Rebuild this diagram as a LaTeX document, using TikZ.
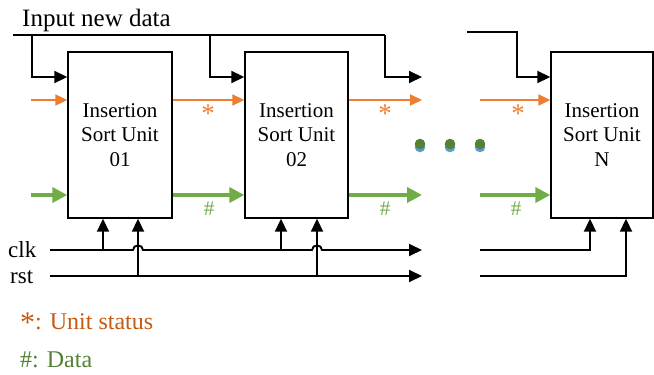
\documentclass[tikz,border=0pt]{standalone}
\usepackage{fontspec}
\setmainfont{Liberation Serif}
\usetikzlibrary{arrows.meta}
\definecolor{orgA}{HTML}{ED7D31}
\definecolor{orgT}{HTML}{C55A11}
\definecolor{grnA}{HTML}{70AD47}
\definecolor{grnT}{HTML}{548235}
\definecolor{bluS}{HTML}{5B9BD5}
\tikzset{
  unit/.style={draw, line width=1.4pt, minimum height=166pt, inner sep=0pt, align=center,
    font=\fontsize{21}{24.5}\selectfont},
  blkline/.style={line width=1.9pt},
  blk/.style={line width=1.9pt, -{Triangle[length=13pt,width=12pt]}},
  org/.style={draw=orgA, line width=2pt, -{Triangle[length=12pt,width=11pt]}},
  grn/.style={draw=grnA, line width=3.8pt, -{Triangle[length=15pt,width=15pt]}},
  star/.style={text=orgA, font=\fontsize{27}{27}\selectfont, anchor=base},
  hash/.style={text=grnA, font=\fontsize{21}{21}\selectfont, anchor=base},
  sig/.style={font=\fontsize{23}{23}\selectfont, anchor=base west},
  dotg/.style={fill=grnT},
  dots/.style={fill=bluS}
}
\begin{document}
\begin{tikzpicture}[x=1pt,y=-1pt]
\useasboundingbox (0,0) rectangle (654,375);
% units
\node[unit, minimum width=104pt] (u1) at (120,135) {Insertion\\Sort Unit\\01};
\node[unit, minimum width=103pt] (u2) at (296.5,135) {Insertion\\Sort Unit\\02};
\node[unit, minimum width=102pt] (uN) at (602,135) {Insertion\\Sort Unit\\N};
% levels
\coordinate (yi) at (0,77);
\coordinate (yo) at (0,100);
\coordinate (yg) at (0,195);
% input data bus
\node[font=\fontsize{25}{25}\selectfont, anchor=base west, inner sep=0pt] (title) at (22,26) {Input new data};
\coordinate (in0) at (13,35);
\coordinate (b1) at (32,35);
\coordinate (b2) at (210,35);
\coordinate (b3) at (385,35);
\coordinate (o3) at (422,77);
\coordinate (inN) at (467,32);
\coordinate (bN) at (517,32);
\draw[blkline] (in0) -- (b3);
\draw[blk] (b3) |- (o3);
\draw[blk] (b1) |- (u1.west |- yi);
\draw[blk] (b2) |- (u2.west |- yi);
\draw[blk] (inN) -- (bN) |- (uN.west |- yi);
% unit status (orange)
\coordinate (os) at (31,100);
\coordinate (oe) at (422,100);
\coordinate (osN) at (480,100);
\draw[org] (os) -- (u1.west |- yo);
\draw[org] (u1.east |- yo) -- (u2.west |- yo);
\draw[org] (u2.east |- yo) -- (oe);
\draw[org] (osN) -- (uN.west |- yo);
\node[star] (s1) at (208,122) {*};
\node[star] (s2) at (385,122) {*};
\node[star] (s3) at (518,122) {*};
% data (green)
\coordinate (gs) at (31,195);
\coordinate (ge) at (422,195);
\coordinate (gsN) at (480,195);
\draw[grn] (gs) -- (u1.west |- yg);
\draw[grn] (u1.east |- yg) -- (u2.west |- yg);
\draw[grn] (u2.east |- yg) -- (ge);
\draw[grn] (gsN) -- (uN.west |- yg);
\node[hash] (h1) at (209,215) {\#};
\node[hash] (h2) at (385,215) {\#};
\node[hash] (h3) at (516,215) {\#};
% dots
\foreach \x/\n in {420/d1,450/d2,480/d3}{
  \fill[dots] (\x,147) circle (5.3pt);
  \fill[dotg] (\x,144) circle (5.3pt);
}
% clk and rst
\node[sig, inner sep=0pt] (clk) at (8,257) {clk};
\node[sig, inner sep=0pt] (rst) at (10,283) {rst};
\coordinate (cs) at (50,250);
\coordinate (ce) at (422,250);
\coordinate (rs) at (50,276);
\coordinate (re) at (422,276);
\coordinate (c1) at (103,250);
\coordinate (r1) at (138,276);
\coordinate (c2) at (281,250);
\coordinate (r2) at (317,276);
\draw[blk] (cs) -- (133,250) .. controls (133,244) and (143,244) .. (143,250)
  -- (312,250) .. controls (312,244) and (322,244) .. (322,250) -- (ce);
\draw[blk] (rs) -- (re);
\draw[blk] (c1) -- (c1 |- u1.south);
\draw[blk] (r1) -- (r1 |- u1.south);
\draw[blk] (c2) -- (c2 |- u2.south);
\draw[blk] (r2) -- (r2 |- u2.south);
\coordinate (cN) at (480,250);
\coordinate (rN) at (480,276);
\coordinate (cNx) at (590,250);
\coordinate (rNx) at (626,276);
\draw[blk] (cN) -- (cNx) -- (cNx |- uN.south);
\draw[blk] (rN) -- (rNx) -- (rNx |- uN.south);
% legend
\node[anchor=base west, inner sep=0pt, text=orgT, font=\fontsize{24}{24}\selectfont] (lg1) at (20,329) {{\fontsize{30}{30}\selectfont\raisebox{-3pt}{*}}: Unit status};
\node[anchor=base west, inner sep=0pt, text=grnT, font=\fontsize{24}{24}\selectfont] (lg2) at (20,367) {\#: Data};
\end{tikzpicture}
\end{document}
